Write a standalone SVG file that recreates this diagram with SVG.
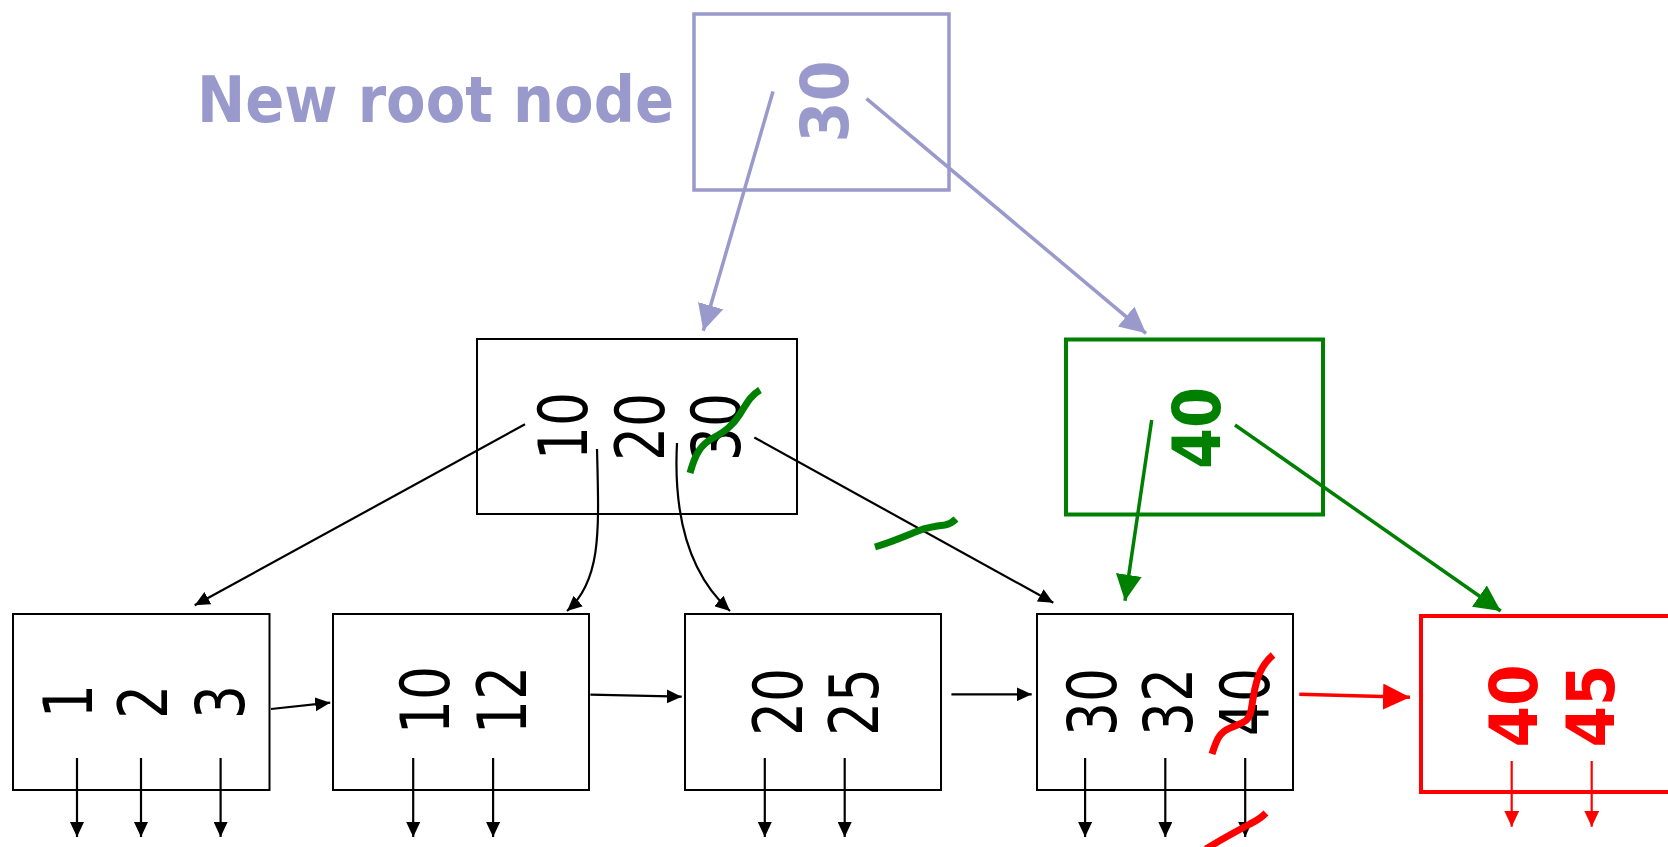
<svg xmlns="http://www.w3.org/2000/svg" width="1668" height="847" viewBox="0 0 1668 847">
<style>
.box{fill:none;stroke:#000;stroke-width:2}
.lav{fill:none;stroke:#9999cc;stroke-width:3.5}
.grn{fill:none;stroke:#008000;stroke-width:4}
.redb{fill:none;stroke:#ff0000;stroke-width:4}
.num{font-family:"DejaVu Sans",Verdana,sans-serif;font-size:67px;fill:#000;text-anchor:middle}
.bnum{font-family:"DejaVu Sans",Verdana,sans-serif;font-weight:bold;font-size:66px;text-anchor:middle}
.cb{fill:none;stroke:#000;stroke-width:2.2}
.cl{fill:none;stroke:#9999cc;stroke-width:3.5}
.cg{fill:none;stroke:#008000;stroke-width:3.5}
.cr{fill:none;stroke:#ff0000;stroke-width:3.5}
.crs{fill:none;stroke:#ff0000;stroke-width:2.2}
.sq{fill:none;stroke-width:7;stroke-linecap:butt}
</style>
<defs>
<marker id="mb" markerUnits="userSpaceOnUse" markerWidth="15" markerHeight="14" refX="15" refY="7" orient="auto"><path d="M0,0 L15,7 L0,14 z" fill="#000"/></marker>
<marker id="ml" markerUnits="userSpaceOnUse" markerWidth="26" markerHeight="26" refX="26" refY="13" orient="auto"><path d="M0,0 L26,13 L0,26 z" fill="#9999cc"/></marker>
<marker id="mg" markerUnits="userSpaceOnUse" markerWidth="26" markerHeight="26" refX="26" refY="13" orient="auto"><path d="M0,0 L26,13 L0,26 z" fill="#008000"/></marker>
<marker id="mrb" markerUnits="userSpaceOnUse" markerWidth="27" markerHeight="26" refX="27" refY="13" orient="auto"><path d="M0,0 L27,13 L0,26 z" fill="#ff0000"/></marker>
<marker id="mrs" markerUnits="userSpaceOnUse" markerWidth="16" markerHeight="15" refX="16" refY="7.5" orient="auto"><path d="M0,0 L16,7.5 L0,15 z" fill="#ff0000"/></marker>
</defs>
<rect width="1668" height="847" fill="#fff"/>

<text id="label-new-root" x="197" y="122" font-family="'DejaVu Sans',Verdana,sans-serif" font-weight="bold" font-size="64" fill="#9999cc" textLength="477" lengthAdjust="spacingAndGlyphs">New root node</text>

<g id="root">
<rect class="lav" x="694" y="14" width="255" height="176"/>
<text class="bnum" fill="#9999cc" transform="translate(848,101.5) rotate(-90)" textLength="82" lengthAdjust="spacingAndGlyphs">30</text>
</g>

<g id="mid">
<rect class="box" x="477" y="339" width="320" height="175"/>
<text class="num" transform="translate(587,426) rotate(-90)" textLength="68" lengthAdjust="spacingAndGlyphs">10</text>
<text class="num" transform="translate(664,427) rotate(-90)" textLength="68" lengthAdjust="spacingAndGlyphs">20</text>
<text class="num" transform="translate(740,427) rotate(-90)" textLength="68" lengthAdjust="spacingAndGlyphs">30</text>
</g>

<g id="green-node">
<rect class="grn" x="1066" y="339.5" width="257" height="175"/>
<text class="bnum" fill="#008000" transform="translate(1220,428) rotate(-90)" textLength="82" lengthAdjust="spacingAndGlyphs">40</text>
</g>

<g id="leaf1">
<rect class="box" x="13" y="614" width="256.5" height="176"/>
<text class="num" transform="translate(92,701) rotate(-90)" textLength="34" lengthAdjust="spacingAndGlyphs">1</text>
<text class="num" transform="translate(166.5,702) rotate(-90)" textLength="34" lengthAdjust="spacingAndGlyphs">2</text>
<text class="num" transform="translate(244,702) rotate(-90)" textLength="34" lengthAdjust="spacingAndGlyphs">3</text>
</g>

<g id="leaf2">
<rect class="box" x="333" y="614" width="256" height="176"/>
<text class="num" transform="translate(449,700) rotate(-90)" textLength="68" lengthAdjust="spacingAndGlyphs">10</text>
<text class="num" transform="translate(526,700) rotate(-90)" textLength="68" lengthAdjust="spacingAndGlyphs">12</text>
</g>

<g id="leaf3">
<rect class="box" x="685" y="614" width="256" height="176"/>
<text class="num" transform="translate(801.5,702) rotate(-90)" textLength="68" lengthAdjust="spacingAndGlyphs">20</text>
<text class="num" transform="translate(878,702) rotate(-90)" textLength="68" lengthAdjust="spacingAndGlyphs">25</text>
</g>

<g id="leaf4">
<rect class="box" x="1037" y="614" width="256" height="176"/>
<text class="num" transform="translate(1116,702) rotate(-90)" textLength="68" lengthAdjust="spacingAndGlyphs">30</text>
<text class="num" transform="translate(1192,702) rotate(-90)" textLength="68" lengthAdjust="spacingAndGlyphs">32</text>
<text class="num" transform="translate(1269,702) rotate(-90)" textLength="68" lengthAdjust="spacingAndGlyphs">40</text>
</g>

<g id="leaf5">
<rect class="redb" x="1421" y="616" width="256" height="176"/>
<text class="bnum" fill="#ff0000" transform="translate(1537,706) rotate(-90)" textLength="83" lengthAdjust="spacingAndGlyphs">40</text>
<text class="bnum" fill="#ff0000" transform="translate(1614,706) rotate(-90)" textLength="83" lengthAdjust="spacingAndGlyphs">45</text>
</g>

<g id="connectors">
<line class="cl" x1="773" y1="91.5" x2="703.3" y2="330.7" marker-end="url(#ml)"/>
<line class="cl" x1="866.5" y1="98.7" x2="1146" y2="333.3" marker-end="url(#ml)"/>
<line class="cg" x1="1151.7" y1="420" x2="1125" y2="600.7" marker-end="url(#mg)"/>
<line class="cg" x1="1235" y1="425" x2="1500.7" y2="611" marker-end="url(#mg)"/>
<line class="cb" x1="525" y1="424.3" x2="194.7" y2="605.3" marker-end="url(#mb)"/>
<path class="cb" d="M597,449 C599,530 602,580 567,611" marker-end="url(#mb)"/>
<path class="cb" d="M677,443 C673,520 690,575 730,611" marker-end="url(#mb)"/>
<line class="cb" x1="754.3" y1="437.5" x2="1053.3" y2="602.7" marker-end="url(#mb)"/>
<line class="cb" x1="271" y1="709" x2="330.2" y2="702.7" marker-end="url(#mb)"/>
<line class="cb" x1="590.4" y1="694.7" x2="681.7" y2="696.7" marker-end="url(#mb)"/>
<line class="cb" x1="951.4" y1="694.3" x2="1031.7" y2="694.3" marker-end="url(#mb)"/>
<line class="cr" x1="1299.3" y1="694.3" x2="1410" y2="697.3" marker-end="url(#mrb)"/>
<line class="cb" x1="77" y1="758" x2="77" y2="837" marker-end="url(#mb)"/>
<line class="cb" x1="141" y1="758" x2="141" y2="837" marker-end="url(#mb)"/>
<line class="cb" x1="220.6" y1="758" x2="220.6" y2="837" marker-end="url(#mb)"/>
<line class="cb" x1="413.2" y1="758" x2="413.2" y2="837" marker-end="url(#mb)"/>
<line class="cb" x1="493.1" y1="758" x2="493.1" y2="837" marker-end="url(#mb)"/>
<line class="cb" x1="764.8" y1="758" x2="764.8" y2="837" marker-end="url(#mb)"/>
<line class="cb" x1="844.7" y1="758" x2="844.7" y2="837" marker-end="url(#mb)"/>
<line class="cb" x1="1085.1" y1="758" x2="1085.1" y2="837" marker-end="url(#mb)"/>
<line class="cb" x1="1165.3" y1="758" x2="1165.3" y2="837" marker-end="url(#mb)"/>
<line class="cb" x1="1245.2" y1="758" x2="1245.2" y2="837" marker-end="url(#mb)"/>
<line class="crs" x1="1511.7" y1="761" x2="1511.7" y2="826.7" marker-end="url(#mrs)"/>
<line class="crs" x1="1591.7" y1="761" x2="1591.7" y2="826.7" marker-end="url(#mrs)"/>
</g>

<g id="strikes">
<path class="sq" stroke="#008000" d="M690,473 C695,455 700,445 713,438 S733,425 740,414 S750,396 760,390"/>
<path class="sq" stroke="#008000" d="M875,547 C895,541 905,536 918,531 C928,527 935,526 945,525 C950,524 953,522 956,519"/>
<path class="sq" stroke="#ff0000" d="M1212,754 C1216,742 1218,733 1230,728 C1245,722 1250,722 1252,705 C1255,685 1258,668 1273,655"/>
<path class="sq" stroke="#ff0000" d="M1206,849 C1220,840 1235,832 1250,824 C1258,820 1262,817 1266,813"/>
</g>
</svg>
